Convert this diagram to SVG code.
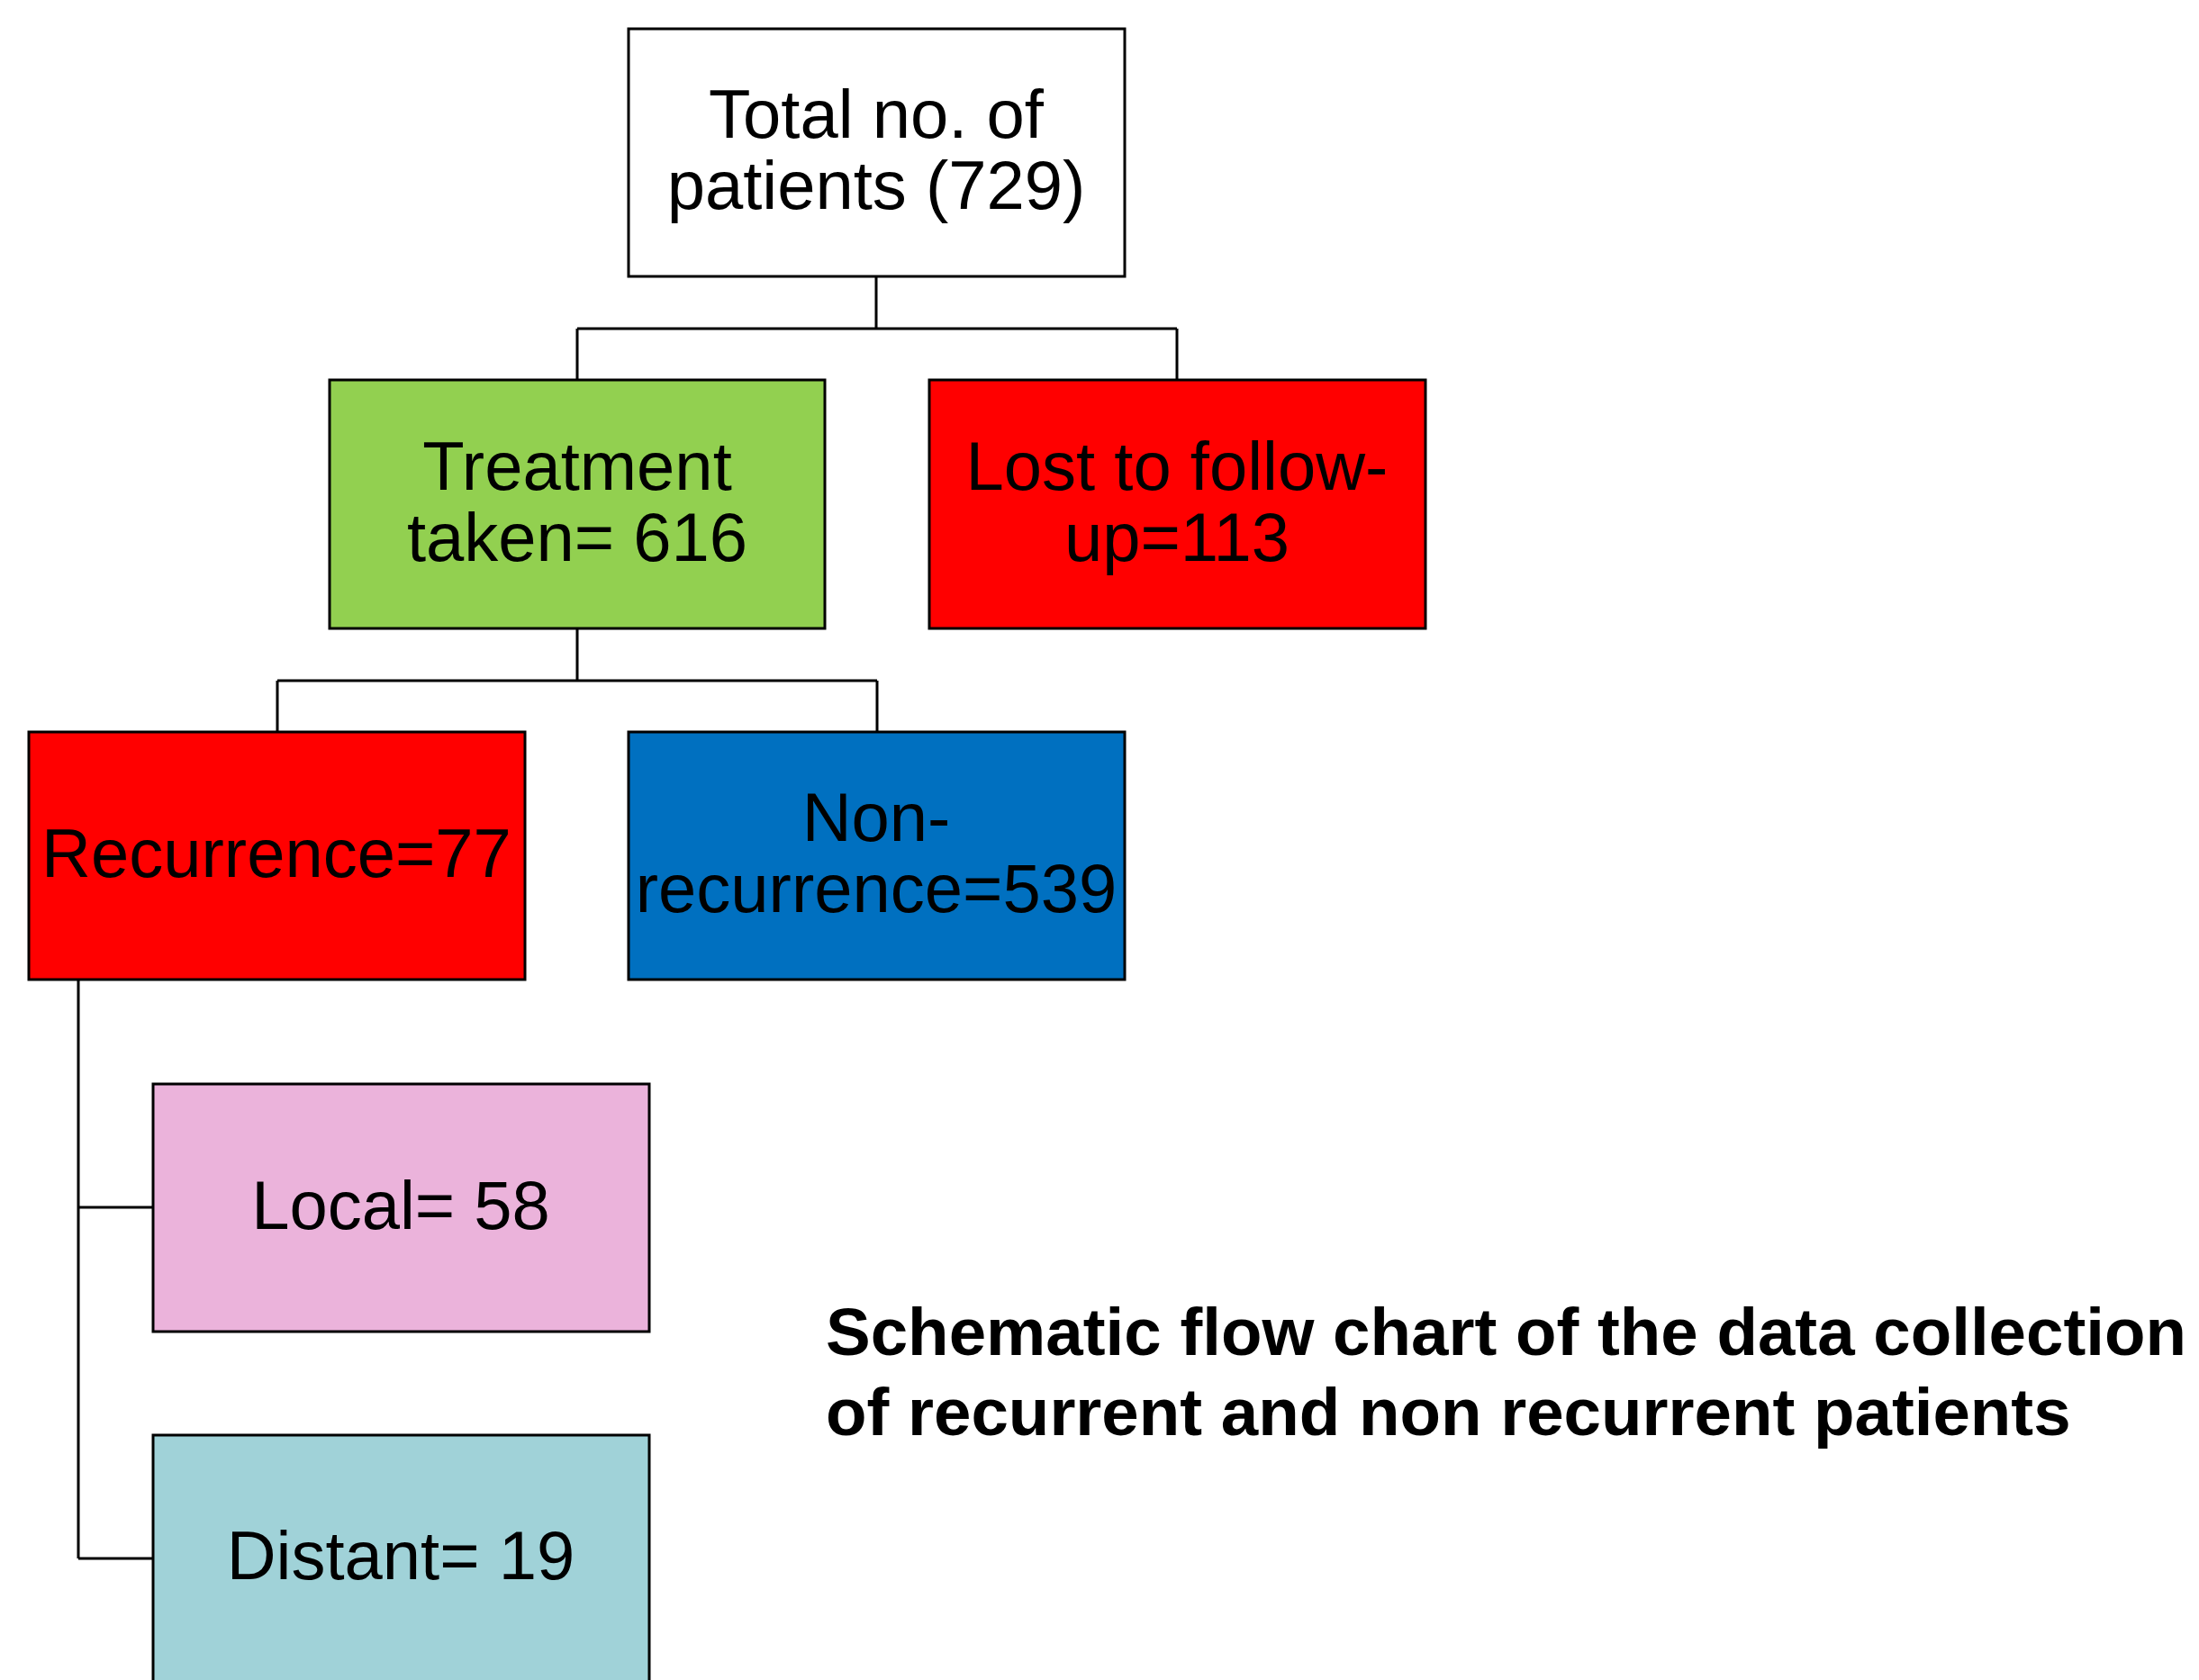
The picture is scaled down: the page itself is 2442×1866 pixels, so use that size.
<svg xmlns="http://www.w3.org/2000/svg" width="2442" height="1866" viewBox="0 0 2442 1866">
  <style>
    .box { stroke: #000; stroke-width: 3; }
    .lbl { font-family: "Liberation Sans", Arial, sans-serif; font-size: 76px; fill: #000; text-anchor: middle; }
    .cap { font-family: "Liberation Sans", Arial, sans-serif; font-size: 74.5px; font-weight: bold; fill: #000; }
    .wire { fill: none; stroke: #000; stroke-width: 3; }
  </style>
  <rect width="2442" height="1866" fill="#fff"/>

  <!-- connectors -->
  <g id="connectors">
    <path class="wire" d="M973,307 V365 M641,365 H1307 M641,365 V422 M1307,365 V422"/>
    <path class="wire" d="M641,698 V756 M308,756 H974 M308,756 V813 M974,756 V813"/>
    <path class="wire" d="M87,1088 V1731 M87,1341 H170 M87,1731 H170"/>
  </g>

  <g id="total">
    <rect class="box" x="698" y="32" width="551" height="275" fill="#fff"/>
    <text class="lbl" x="973" y="153">Total no. of</text>
    <text class="lbl" x="973" y="232">patients (729)</text>
  </g>

  <g id="treatment">
    <rect class="box" x="366" y="422" width="550" height="276" fill="#92D050"/>
    <text class="lbl" x="641" y="544">Treatment</text>
    <text class="lbl" x="641" y="623">taken= 616</text>
  </g>

  <g id="lost">
    <rect class="box" x="1032" y="422" width="551" height="276" fill="#FF0000"/>
    <text class="lbl" x="1307" y="544">Lost to follow-</text>
    <text class="lbl" x="1307" y="623">up=113</text>
  </g>

  <g id="recurrence">
    <rect class="box" x="32" y="813" width="551" height="275" fill="#FF0000"/>
    <text class="lbl" x="307" y="974">Recurrence=77</text>
  </g>

  <g id="non-recurrence">
    <rect class="box" x="698" y="813" width="551" height="275" fill="#0070C0"/>
    <text class="lbl" x="973" y="934">Non-</text>
    <text class="lbl" x="973" y="1013">recurrence=539</text>
  </g>

  <g id="local">
    <rect class="box" x="170" y="1204" width="551" height="275" fill="#EBB3DB"/>
    <text class="lbl" x="445" y="1365">Local= 58</text>
  </g>

  <g id="distant">
    <rect class="box" x="170" y="1594" width="551" height="276" fill="#A0D2D8"/>
    <text class="lbl" x="445" y="1754">Distant= 19</text>
  </g>

  <g id="caption">
    <text class="cap" x="917" y="1505">Schematic flow chart of the data collection</text>
    <text class="cap" x="917" y="1594">of recurrent and non recurrent patients</text>
  </g>
</svg>
